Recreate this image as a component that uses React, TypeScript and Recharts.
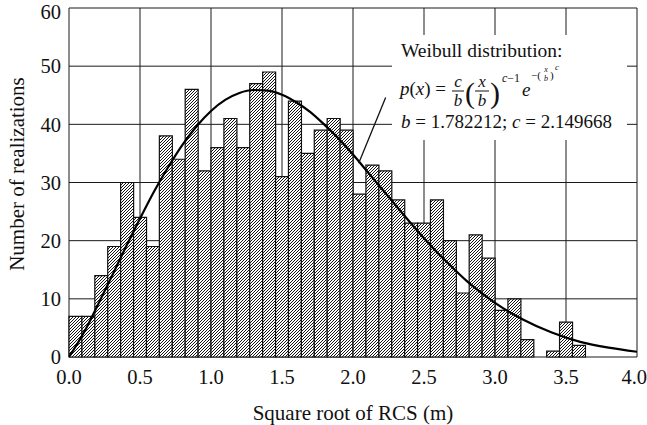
import { ComposedChart, Bar, Line, XAxis, YAxis, CartesianGrid, ReferenceLine, Label } from "recharts";

const FONT = "'Liberation Serif', 'Times New Roman', serif";

// histogram: 44 bins of equal width over 0..4
const binCount = 44;
const binWidth = 4 / binCount;
const counts = [
  7, 7, 14, 19, 30, 24, 19, 38, 34, 46,
  32, 36, 41, 36, 47, 49, 31, 44, 35, 39,
  41, 39, 28, 33, 32, 27, 23, 23, 27, 20,
  11, 21, 17, 8, 10, 3, 0, 1, 6, 2,
  0, 0, 0, 0,
];

// fitted Weibull curve
const curveX = [
  0, 0.1, 0.2, 0.3, 0.4, 0.5, 0.6, 0.7, 0.8, 0.9,
  1.0, 1.1, 1.2, 1.3, 1.4, 1.5, 1.6, 1.7, 1.8, 1.9,
  2.0, 2.1, 2.2, 2.3, 2.4, 2.5, 2.6, 2.7, 2.8, 2.9,
  3.0, 3.2, 3.4, 3.6, 3.8, 4.0,
];
const curveY = [
  0, 4.0, 8.8, 13.8, 18.9, 23.8, 28.5, 32.7, 36.5, 39.7,
  42.3, 44.2, 45.4, 45.9, 45.8, 45.1, 43.8, 42.1, 39.9, 37.5,
  34.8, 31.9, 29.0, 26.1, 23.2, 20.4, 17.8, 15.4, 13.1, 11.1,
  9.3, 6.4, 4.2, 2.6, 1.6, 0.9,
];

const xTicks = [0, 0.5, 1, 1.5, 2, 2.5, 3, 3.5, 4];
const yTicks = [0, 10, 20, 30, 40, 50, 60];

const barData = counts.map((c, i) => ({ bin: String(i), x: (i + 0.5) * binWidth, count: c }));
const curveData = curveX.map((x, i) => ({ x, fit: curveY[i] }));

const Annotation = () => (
  <svg
    width={647}
    height={425}
    style={{ position: "absolute", left: 0, top: 0, pointerEvents: "none" }}
    fontFamily={FONT}
    fill="#111"
  >
    <rect x={392} y={35} width={235} height={105} fill="#fff" />
    <text x={401} y={57} fontSize={19.5}>Weibull distribution:</text>
    <text x={400} y={95} fontSize={19}>
      <tspan fontStyle="italic">p</tspan>(<tspan fontStyle="italic">x</tspan>) =
    </text>
    <text x={458} y={87} fontSize={17} fontStyle="italic" textAnchor="middle">c</text>
    <line x1={452} x2={464} y1={91} y2={91} stroke="#111" strokeWidth={1} />
    <text x={458} y={106} fontSize={17} fontStyle="italic" textAnchor="middle">b</text>
    <text x={465} y={103} fontSize={30}>(</text>
    <text x={482} y={87} fontSize={17} fontStyle="italic" textAnchor="middle">x</text>
    <line x1={475} x2={489} y1={91} y2={91} stroke="#111" strokeWidth={1} />
    <text x={482} y={106} fontSize={17} fontStyle="italic" textAnchor="middle">b</text>
    <text x={490} y={103} fontSize={30}>)</text>
    <text x={502} y={82} fontSize={12}>
      <tspan fontStyle="italic">c</tspan>−1
    </text>
    <text x={522} y={96} fontSize={19} fontStyle="italic">e</text>
    <text x={531} y={79} fontSize={11}>−(</text>
    <text x={546} y={72} fontSize={8} fontStyle="italic" textAnchor="middle">x</text>
    <text x={546} y={81} fontSize={8} fontStyle="italic" textAnchor="middle">b</text>
    <text x={550} y={79} fontSize={11}>)</text>
    <text x={555} y={70} fontSize={9} fontStyle="italic">c</text>
    <text x={401} y={128} fontSize={19}>
      <tspan fontStyle="italic">b</tspan> = 1.782212;{"  "}<tspan fontStyle="italic">c</tspan> = 2.149668
    </text>
  </svg>
);

export default function App() {
  return (
    <div style={{ position: "absolute", left: 0, top: 0, width: 647, height: 425, background: "#fff" }}>
      <ComposedChart
        width={647}
        height={425}
        data={barData}
        margin={{ top: 8, right: 10, bottom: 0, left: 0 }}
        barCategoryGap={0}
        barGap={0}
        style={{ fontFamily: FONT }}
      >
        <defs>
          <pattern id="hatch" patternUnits="userSpaceOnUse" width="3" height="3">
            <rect width="3" height="3" fill="#fff" />
            <path
              d="M-0.75,0.75 L0.75,-0.75 M0,3 L3,0 M2.25,3.75 L3.75,2.25"
              stroke="#151515"
              strokeWidth={1}
            />
          </pattern>
        </defs>
        <CartesianGrid xAxisId="num" stroke="#1a1a1a" strokeWidth={1} />
        <XAxis xAxisId="bins" dataKey="bin" type="category" orientation="top" height={0} hide />
        <XAxis
          xAxisId="num"
          dataKey="x"
          type="number"
          domain={[0, 4]}
          ticks={xTicks}
          tickFormatter={(v) => v.toFixed(1)}
          axisLine={false}
          tickLine={false}
          height={68}
          tickMargin={6}
          tick={{ fill: "#111", fontSize: 20.5 }}
          allowDataOverflow
        >
          <Label value="Square root of RCS (m)" position="insideBottom" offset={5} fill="#111" fontSize={21} />
        </XAxis>
        <YAxis
          type="number"
          domain={[0, 60]}
          ticks={yTicks}
          axisLine={false}
          tickLine={false}
          width={69}
          tick={{ fill: "#111", fontSize: 20.5 }}
        >
          <Label
            content={() => (
              <text
                x={17}
                y={174}
                transform="rotate(-90 17 174)"
                textAnchor="middle"
                dominantBaseline="central"
                fill="#111"
                fontSize={21}
                fontFamily={FONT}
              >
                Number of realizations
              </text>
            )}
          />
        </YAxis>
        <Bar
          xAxisId="bins"
          dataKey="count"
          fill="url(#hatch)"
          stroke="#111"
          strokeWidth={1.2}
          isAnimationActive={false}
        />
        <Line
          xAxisId="num"
          data={curveData}
          dataKey="fit"
          type="monotone"
          stroke="#000"
          strokeWidth={2.2}
          dot={false}
          activeDot={false}
          isAnimationActive={false}
        />
        <ReferenceLine
          xAxisId="num"
          segment={[
            { x: 2.23, y: 44.6 },
            { x: 2.04, y: 33.3 },
          ]}
          stroke="#111"
          strokeWidth={1.3}
        />
      </ComposedChart>
      <Annotation />
    </div>
  );
}
